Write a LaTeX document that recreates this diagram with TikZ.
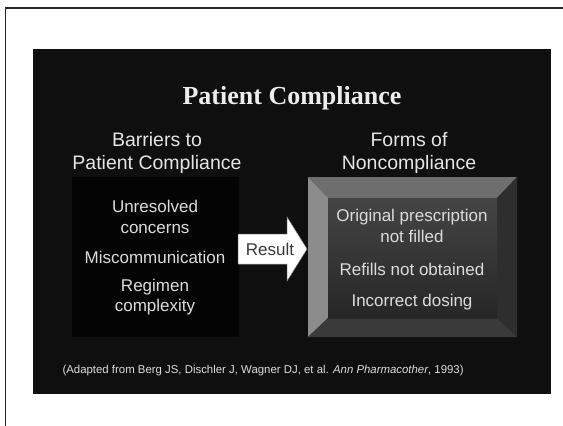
\documentclass[tikz,border=0pt]{standalone}
\usepackage{fontspec}
\setmainfont{Liberation Sans}
\newfontfamily\titlefont{Liberation Serif}
\definecolor{slidebg}{HTML}{0F0F0F}
\definecolor{boxbg}{HTML}{040404}
\definecolor{lighttext}{HTML}{DCDCDC}
\definecolor{bevtop}{HTML}{6E6E6E}
\definecolor{bevleft}{HTML}{8C8C8C}
\definecolor{bevright}{HTML}{2E2E2E}
\definecolor{bevbottom}{HTML}{3A3A3A}
\begin{document}
\begin{tikzpicture}[x=1pt, y=-1pt,
    itemtext/.style = {text = lighttext, align = center,
      font = \fontsize{17}{20.5}\selectfont},
    headtext/.style = {text = white!90!black, align = center,
      font = \fontsize{19.5}{23}\selectfont}]
    \useasboundingbox (0, 0) rectangle (563, 426);
    \fill [white] (0, 0) rectangle (563, 426);
    \draw [line width = 1.8pt, black!85] (5.5, 426) -- (5.5, 8) -- (563, 8);

    % slide
    \fill [slidebg] (33, 49) rectangle (551, 394);
    \node [text = white!93!black, font = \titlefont\bfseries\fontsize{26}{30}\selectfont] (title) at (292, 98) {Patient Compliance};
    \node [headtext] (barriers) at (157, 153) {Barriers to\\Patient Compliance};
    \node [headtext] (forms) at (409, 153) {Forms of\\Noncompliance};

    % barriers
    \fill [boxbg] (72, 177) rectangle (239, 337);
    \node [itemtext] (concerns) at (155, 217) {Unresolved\\concerns};
    \node [itemtext] (miscomm) at (155, 257) {Miscommunication};
    \node [itemtext] (regimen) at (155, 297) {Regimen\\complexity};

    % result arrow
    \filldraw [fill = white, draw = black!45, line width = 0.5pt]
      (238, 234) -- (287, 234) -- (287, 217) -- (307, 249) -- (287, 281) -- (287, 264) -- (238, 264) -- cycle;
    \node [text = black!78, font = \fontsize{17}{20}\selectfont] (result) at (270, 249) {Result};

    % noncompliance
    \fill [bevtop] (308, 177) -- (517, 177) -- (497, 198) -- (328, 198) -- cycle;
    \fill [bevleft] (308, 177) -- (328, 198) -- (328, 318) -- (308, 337) -- cycle;
    \fill [bevright] (517, 177) -- (517, 337) -- (497, 318) -- (497, 198) -- cycle;
    \fill [bevbottom] (308, 337) -- (328, 318) -- (497, 318) -- (517, 337) -- cycle;
    \shade [top color = black!73, bottom color = black!85] (328, 198) rectangle (497, 318);
    \node [itemtext] (notfilled) at (412, 226) {Original prescription\\not filled};
    \node [itemtext] (refills) at (412, 269) {Refills not obtained};
    \node [itemtext] (dosing) at (412, 302) {Incorrect dosing};

    \node [anchor = west, text = lighttext, font = \fontsize{11.4}{13}\selectfont] (source) at (59, 371)
      {(Adapted from Berg JS, Dischler J, Wagner DJ, et al. \textit{Ann Pharmacother}, 1993)};
  \end{tikzpicture}
\end{document}
